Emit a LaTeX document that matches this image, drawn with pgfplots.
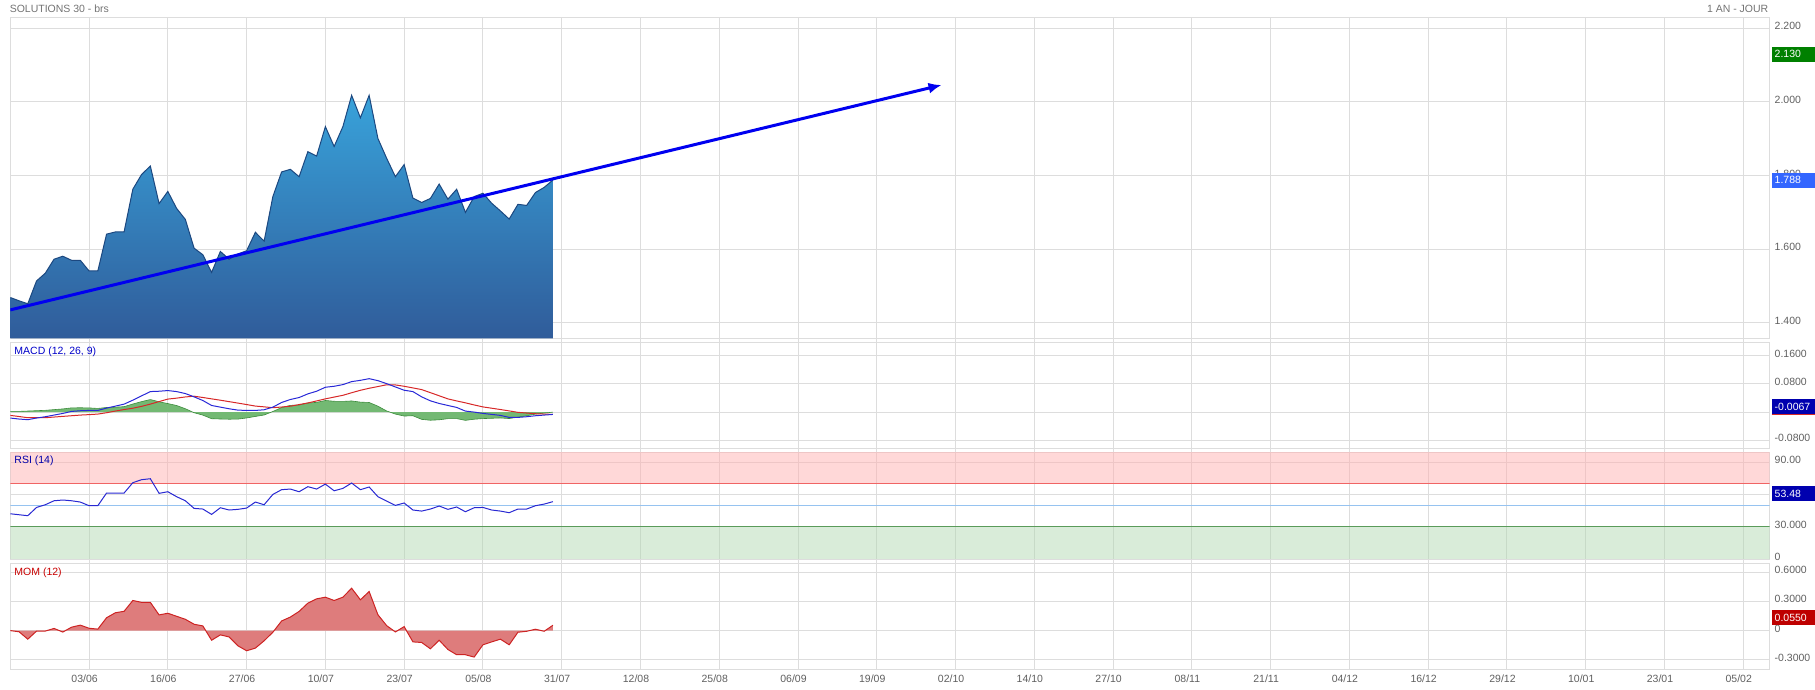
\documentclass[border=0pt]{standalone}
\usepackage{fontspec}
\setmainfont{Liberation Sans}
\usepackage{pgfplots}
\pgfplotsset{compat=1.18}
\usepackage{pgfplotstable}
\usetikzlibrary{arrows.meta}

\definecolor{gridgray}{RGB}{221,221,221}
\definecolor{labgray}{RGB}{95,95,95}
\definecolor{titlegray}{RGB}{115,115,115}
\definecolor{pricetop}{RGB}{56,162,218}
\definecolor{pricebot}{RGB}{48,92,154}
\definecolor{priceline}{RGB}{28,72,128}
\definecolor{trend}{RGB}{0,0,240}
\definecolor{macdblue}{RGB}{40,40,215}
\definecolor{macdred}{RGB}{215,40,40}
\definecolor{histfill}{RGB}{115,185,115}
\definecolor{histline}{RGB}{60,140,60}
\definecolor{rsiblue}{RGB}{40,40,210}
\definecolor{zonered}{RGB}{255,177,177}
\definecolor{zonegreen}{RGB}{179,217,179}
\definecolor{linered}{RGB}{240,100,100}
\definecolor{lineblue}{RGB}{150,195,240}
\definecolor{linegreen}{RGB}{90,155,90}
\definecolor{momfill}{RGB}{222,124,124}
\definecolor{momline}{RGB}{205,35,35}
\definecolor{boxgreen}{RGB}{0,128,0}
\definecolor{boxblue}{RGB}{51,102,255}
\definecolor{boxnavy}{RGB}{0,0,175}
\definecolor{boxred}{RGB}{190,0,0}
\definecolor{macdlab}{RGB}{0,0,200}
\definecolor{rsilab}{RGB}{0,0,170}
\definecolor{momlab}{RGB}{200,0,0}

% one row per trading day: price, MACD, signal, histogram, RSI, momentum
\pgfplotstableread{
x price macd signal hist rsi mom
0 1.469 -0.0169 -0.0094 0.0020 42.2 0.000
1 1.460 -0.0198 -0.0126 0.0020 41.3 -0.012
2 1.452 -0.0216 -0.0160 0.0030 40.4 -0.088
3 1.514 -0.0169 -0.0160 0.0040 48.1 -0.005
4 1.535 -0.0132 -0.0160 0.0050 50.6 -0.005
5 1.573 -0.0085 -0.0141 0.0070 54.3 0.022
6 1.581 -0.0038 -0.0122 0.0090 55.0 -0.015
7 1.570 0.0019 -0.0104 0.0120 54.3 0.035
8 1.570 0.0038 -0.0085 0.0123 53.1 0.056
9 1.541 0.0047 -0.0072 0.0119 49.7 0.024
10 1.541 0.0047 -0.0057 0.0104 49.7 0.015
11 1.641 0.0113 -0.0018 0.0131 61.5 0.132
12 1.647 0.0169 0.0029 0.0140 61.5 0.183
13 1.647 0.0226 0.0072 0.0154 61.5 0.198
14 1.763 0.0339 0.0110 0.0229 71.1 0.309
15 1.803 0.0461 0.0163 0.0298 73.9 0.290
16 1.826 0.0583 0.0227 0.0356 74.8 0.290
17 1.724 0.0593 0.0299 0.0294 61.2 0.161
18 1.757 0.0612 0.0370 0.0242 62.7 0.178
19 1.711 0.0583 0.0396 0.0187 58.1 0.147
20 1.681 0.0527 0.0431 0.0096 54.3 0.116
21 1.603 0.0433 0.0451 -0.0018 47.2 0.065
22 1.585 0.0329 0.0415 -0.0086 46.6 0.048
23 1.537 0.0188 0.0376 -0.0188 41.6 -0.099
24 1.594 0.0141 0.0338 -0.0197 47.8 -0.044
25 1.573 0.0094 0.0297 -0.0203 45.7 -0.065
26 1.587 0.0056 0.0256 -0.0200 46.3 -0.156
27 1.596 0.0047 0.0214 -0.0167 47.5 -0.207
28 1.646 0.0047 0.0171 -0.0124 53.1 -0.180
29 1.622 0.0066 0.0149 -0.0083 50.6 -0.105
30 1.743 0.0141 0.0124 0.0017 60.2 -0.017
31 1.810 0.0273 0.0144 0.0129 64.6 0.099
32 1.817 0.0358 0.0167 0.0191 65.2 0.139
33 1.797 0.0414 0.0214 0.0200 62.7 0.197
34 1.865 0.0518 0.0260 0.0258 67.4 0.282
35 1.853 0.0593 0.0317 0.0276 65.2 0.326
36 1.933 0.0706 0.0376 0.0330 69.8 0.343
37 1.879 0.0734 0.0427 0.0307 63.6 0.309
38 1.933 0.0781 0.0477 0.0304 65.8 0.343
39 2.018 0.0866 0.0550 0.0316 70.8 0.435
40 1.957 0.0903 0.0620 0.0283 64.6 0.316
41 2.018 0.0950 0.0677 0.0273 67.1 0.401
42 1.901 0.0894 0.0726 0.0168 58.1 0.163
43 1.847 0.0809 0.0777 0.0032 54.0 0.051
44 1.797 0.0715 0.0772 -0.0057 50.0 -0.014
45 1.830 0.0621 0.0734 -0.0113 52.2 0.041
46 1.739 0.0583 0.0687 -0.0104 45.7 -0.116
47 1.727 0.0433 0.0640 -0.0207 44.7 -0.122
48 1.738 0.0320 0.0552 -0.0232 46.6 -0.187
49 1.777 0.0245 0.0464 -0.0219 49.4 -0.099
50 1.736 0.0188 0.0375 -0.0187 46.3 -0.194
51 1.763 0.0132 0.0317 -0.0185 48.5 -0.248
52 1.700 0.0028 0.0263 -0.0235 44.1 -0.248
53 1.743 0.0000 0.0203 -0.0203 47.8 -0.272
54 1.752 -0.0038 0.0147 -0.0185 48.1 -0.146
55 1.725 -0.0066 0.0110 -0.0176 45.7 -0.116
56 1.704 -0.0094 0.0073 -0.0167 44.7 -0.088
57 1.682 -0.0151 0.0033 -0.0184 43.2 -0.146
58 1.722 -0.0151 -0.0007 -0.0144 46.6 -0.017
59 1.719 -0.0132 -0.0027 -0.0105 46.6 -0.007
60 1.754 -0.0104 -0.0047 -0.0057 49.7 0.014
61 1.768 -0.0085 -0.0056 -0.0029 51.2 -0.007
62 1.788 -0.0067 -0.0066 -0.0001 53.48 0.055
}\data

\pgfplotsset{
  panel/.style={
    scale only axis, width=1759.7pt,
    xmin=0, xmax=201, xtick=\empty,
    major tick length=0pt,
    ymajorgrids, grid style={gridgray, line width=1pt},
    axis line style={gridgray, line width=1pt},
    yticklabel pos=right,
    tick label style={font=\fontsize{10.5}{12}\selectfont},
    yticklabel style={anchor=west, inner sep=0pt, xshift=5pt, yshift=2pt, text=labgray},
    anchor=south west,
  },
}
\tikzset{
  valbox/.style={text=white, inner xsep=3pt, inner ysep=0pt, text width=37pt,
    minimum height=15pt, align=left, font=\fontsize{10.5}{12}\selectfont},
}

\begin{document}
\begin{tikzpicture}[font=\fontsize{10.5}{12}\selectfont]

% vertical grid and date labels shared by all panels
\begin{axis}[scale only axis, width=1759.7pt, height=652pt,
  at={(10.3pt,20.7pt)}, anchor=south west,
  xmin=0, xmax=201, ymin=0, ymax=1,
  xtick={9,18,...,198},
  xticklabels={03/06,16/06,27/06,10/07,23/07,05/08,31/07,12/08,25/08,06/09,19/09,02/10,14/10,27/10,08/11,21/11,04/12,16/12,29/12,10/01,23/01,05/02},
  ytick=\empty, xmajorgrids, grid style={gridgray, line width=1pt},
  axis line style={draw=none}, major tick length=0pt,
  tick label style={font=\fontsize{10.5}{12}\selectfont},
  xticklabel style={anchor=center, yshift=-10pt, xshift=-4.5pt, text=labgray}]
\addplot[draw=none] coordinates {(0,0) (201,1)};
\end{axis}

% price
\begin{axis}[panel, height=321.2pt, at={(10.3pt,351.5pt)},
  ymin=1.3579, ymax=2.2299,
  ytick={1.4,1.6,1.8,2.0,2.2}, yticklabels={1.400,1.600,1.800,2.000,2.200}]
\addplot[draw=none, top color=pricetop, bottom color=pricebot] table[x=x,y=price]{\data}
  -- (axis cs:62,1.3579) -- (axis cs:0,1.3579) -- cycle;
\addplot[priceline, line width=1pt] table[x=x,y=price]{\data};
\addplot[trend, line width=3pt, -{Latex[length=13pt,width=11pt]}] coordinates {(0,1.4353) (106.4,2.046)};
\coordinate (b1) at (axis cs:201,2.130);
\coordinate (b2) at (axis cs:201,1.788);
\end{axis}

% MACD
\begin{axis}[panel, height=106pt, at={(10.3pt,241.7pt)},
  ymin=-0.1026, ymax=0.1987,
  ytick={-0.08,0,0.08,0.16}, yticklabels={-0.0800,0,0.0800,0.1600}]
\addplot[draw=none, fill=histfill] table[x=x,y=hist]{\data}
  -- (axis cs:62,0) -- (axis cs:0,0) -- cycle;
\addplot[histline, line width=0.6pt] table[x=x,y=hist]{\data};
\addplot[macdred, line width=1pt] table[x=x,y=signal]{\data};
\addplot[macdblue, line width=1pt] table[x=x,y=macd]{\data};
\coordinate (b3) at (axis cs:201,-0.0067);
\end{axis}

% RSI
\begin{axis}[panel, height=107pt, at={(10.3pt,130.7pt)},
  ymin=0, ymax=99.5,
  ytick={0,30,60,90}, yticklabels={0,30.000,60.00,90.00}]
\addplot[draw=none, fill=zonered, fill opacity=0.5] coordinates {(0,70) (201,70) (201,100) (0,100)};
\addplot[draw=none, fill=zonegreen, fill opacity=0.5] coordinates {(0,0) (201,0) (201,30) (0,30)};
\addplot[linered, line width=1pt] coordinates {(0,70) (201,70)};
\addplot[lineblue, line width=1pt] coordinates {(0,50) (201,50)};
\addplot[linegreen, line width=1pt] coordinates {(0,30) (201,30)};
\addplot[rsiblue, line width=1pt] table[x=x,y=rsi]{\data};
\coordinate (b4) at (axis cs:201,53.48);
\end{axis}

% momentum
\begin{axis}[panel, height=106pt, at={(10.3pt,20.7pt)},
  ymin=-0.3955, ymax=0.6924,
  ytick={-0.3,0,0.3,0.6}, yticklabels={-0.3000,0,0.3000,0.6000}]
\addplot[draw=none, fill=momfill] table[x=x,y=mom]{\data}
  -- (axis cs:62,0) -- (axis cs:0,0) -- cycle;
\addplot[momline, line width=1pt] table[x=x,y=mom]{\data};
\coordinate (b5) at (axis cs:201,0.055);
\end{axis}

% last-value boxes
\node[valbox, fill=boxgreen, anchor=west] at ([xshift=2pt]b1) {2.130};
\node[valbox, fill=boxblue, anchor=west] at ([xshift=2pt]b2) {1.788};
\node[valbox, fill=boxnavy, anchor=south west] at ([xshift=2pt]b3) {-0.0067};
\draw[macdred, line width=1pt] ([xshift=2pt]b3) -- ++(43pt,0pt);
\node[valbox, fill=boxnavy, anchor=south west] at ([xshift=2pt]b4) {53.48};
\node[valbox, fill=boxred, anchor=south west] at ([xshift=2pt]b5) {0.0550};

% titles
\node[anchor=west, inner sep=0pt, text=titlegray] at (9.6pt,681pt) {SOLUTIONS 30 - brs};
\node[anchor=east, inner sep=0pt, text=titlegray] at (1769pt,681pt) {1 AN - JOUR};
\node[anchor=west, inner sep=0pt, text=macdlab] at (14.3pt,338.3pt) {MACD (12, 26, 9)};
\node[anchor=west, inner sep=0pt, text=rsilab] at (14.3pt,229pt) {RSI (14)};
\node[anchor=west, inner sep=0pt, text=momlab] at (14.3pt,117.3pt) {MOM (12)};

% page frame of the original screenshot
\path (0pt,0pt) rectangle (1815pt,690pt);
\end{tikzpicture}
\end{document}
